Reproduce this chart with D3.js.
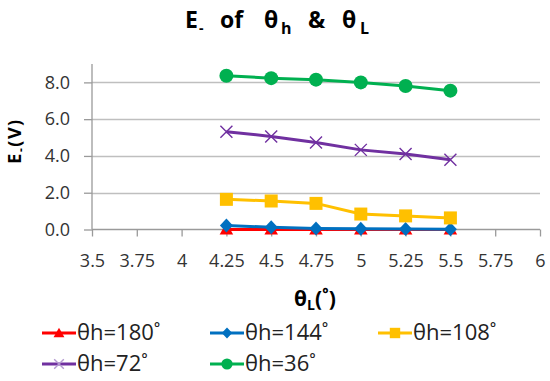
<!DOCTYPE html>
<html>
<head>
<meta charset="utf-8">
<script src="https://cdn.jsdelivr.net/npm/d3@7"></script>
<style>
  body { margin: 0; background: #fff; }
  svg { display: block; font-family: "Open Sans", sans-serif; }
</style>
</head>
<body>
<svg id="chart" width="550" height="381"></svg>
<script>
// θL values along x, one E- series per θh
const thetaL = [4.25, 4.5, 4.75, 5, 5.25, 5.5];
const xTicks = [3.5, 3.75, 4, 4.25, 4.5, 4.75, 5, 5.25, 5.5, 5.75, 6];
const yTicks = [0, 2, 4, 6, 8];

const e180 = [0, 0, 0, 0, 0, 0];
const e144 = [0.22, 0.12, 0.06, 0.04, 0.03, 0.02];
const e108 = [1.64, 1.55, 1.42, 0.84, 0.74, 0.63];
const e72  = [5.32, 5.06, 4.73, 4.33, 4.1, 3.79];
const e36  = [8.36, 8.23, 8.15, 8.0, 7.8, 7.55];

const seriesNames = ['θh=180˚', 'θh=144˚', 'θh=108˚', 'θh=72˚', 'θh=36˚'];
const seriesColors = ['#ff0000', '#0070c0', '#ffc000', '#7030a0', '#00b050'];
const seriesShapes = ['triangle', 'diamond', 'square', 'cross', 'circle'];

const series = [e180, e144, e108, e72, e36].map((vals, i) => ({
  name: seriesNames[i],
  colour: seriesColors[i],
  shape: seriesShapes[i],
  points: vals.map((v, j) => ({ x: thetaL[j], y: v })),
}));

const svg = d3.select('#chart');
const x = d3.scaleLinear().domain([3.5, 6]).range([92, 540]);
const y = d3.scaleLinear().domain([0, 9]).range([229.5, 64]);

// gridlines
svg.append('g')
  .selectAll('line')
  .data(yTicks.filter(t => t > 0))
  .join('line')
  .attr('x1', x(3.5)).attr('x2', x(6))
  .attr('y1', d => Math.round(y(d)) + 0.5).attr('y2', d => Math.round(y(d)) + 0.5)
  .attr('stroke', '#bfbfbf').attr('stroke-width', 1.3);

// axes
const yAxis = svg.append('g')
  .attr('transform', `translate(${x(3.5)},0)`)
  .call(d3.axisLeft(y).tickValues(yTicks).tickSize(8).tickPadding(14).tickFormat(d3.format('.1f')));
const xAxis = svg.append('g')
  .attr('transform', `translate(0,${y(0)})`)
  .call(d3.axisBottom(x).tickValues(xTicks).tickSize(7).tickPadding(18).tickFormat(d => String(d)));
for (const ax of [yAxis, xAxis]) {
  ax.select('.domain').attr('stroke', '#9a9a9a').attr('stroke-width', 1.3);
  ax.selectAll('.tick line').attr('stroke', '#9a9a9a').attr('stroke-width', 1.3);
  ax.selectAll('.tick text').attr('fill', '#333').attr('font-size', 18)
    .attr('font-family', '"Open Sans", sans-serif');
}
yAxis.select('.domain').attr('d', `M0,${y(9)}V${y(0)}`);
xAxis.select('.domain').attr('d', `M${x(3.5)},0H${x(6)}`);

// marker shapes centred at 0,0
function drawMarker(g, shape, colour, big) {
  const s = big ? 1 : 0.8;
  switch (shape) {
    case 'triangle':
      g.append('path').attr('d', d3.symbol(d3.symbolTriangle, 80 * s * s)()).attr('fill', colour)
        .attr('transform', 'translate(0,1)');
      break;
    case 'diamond':
      g.append('path').attr('d', `M0,${-7 * s}L${6.5 * s},0L0,${7 * s}L${-6.5 * s},0Z`).attr('fill', colour);
      break;
    case 'square':
      g.append('rect').attr('x', -6.5 * s).attr('y', -6.5 * s).attr('width', 13 * s).attr('height', 13 * s)
        .attr('fill', colour);
      break;
    case 'cross':
      g.append('path').attr('d', `M${-6 * s},${-6 * s}L${6 * s},${6 * s}M${6 * s},${-6 * s}L${-6 * s},${6 * s}`)
        .attr('stroke', big ? colour : '#b49ad0').attr('stroke-width', 1.4).attr('fill', 'none');
      break;
    default:
      g.append('circle').attr('r', 7 * s).attr('fill', colour);
  }
}

const line = d3.line().x(d => x(d.x)).y(d => y(d.y));
const plot = svg.append('g');
for (const s of series) {
  const g = plot.append('g');
  g.append('path').attr('d', line(s.points)).attr('fill', 'none')
    .attr('stroke', s.colour).attr('stroke-width', 3).attr('stroke-linejoin', 'round');
  g.selectAll('g.m').data(s.points).join('g').attr('class', 'm')
    .attr('transform', d => `translate(${x(d.x)},${y(d.y)})`)
    .each(function () { drawMarker(d3.select(this), s.shape, s.colour, true); });
}

// title, pieces placed to match the wide spacing of the original
const title = svg.append('g').attr('font-weight', 'bold').attr('fill', '#000');
const titleParts = [
  { t: 'E', x: 185, dy: 0, size: 23 },
  { t: '-', x: 199, dy: 5, size: 14 },
  { t: 'of', x: 220, dy: 0, size: 23 },
  { t: 'θ', x: 264, dy: 0, size: 23 },
  { t: 'h', x: 281, dy: 6, size: 16 },
  { t: '&', x: 308, dy: 0, size: 23 },
  { t: 'θ', x: 342, dy: 0, size: 23 },
  { t: 'L', x: 360, dy: 6, size: 16 },
];
title.selectAll('text').data(titleParts).join('text')
  .attr('x', d => d.x).attr('y', d => 28 + d.dy).attr('font-size', d => d.size).text(d => d.t);

// y axis title
const yt = svg.append('text').attr('transform', 'translate(21,141) rotate(-90)').attr('text-anchor', 'middle')
  .attr('font-size', 18).attr('font-weight', 'bold').attr('fill', '#000').attr('letter-spacing', 1.5);
yt.append('tspan').text('E');
yt.append('tspan').attr('font-size', 12).attr('dy', 4).text('-');
yt.append('tspan').attr('dy', -4).text('(V)');

// x axis title
const xt = svg.append('text').attr('x', 315).attr('y', 306).attr('text-anchor', 'middle')
  .attr('font-size', 21).attr('font-weight', 'bold').attr('fill', '#000');
xt.append('tspan').text('θ');
xt.append('tspan').attr('font-size', 14).attr('dy', 4).text('L');
xt.append('tspan').attr('dy', -4).text('(˚)');

// legend
const legendX = [42, 210, 378];
const legendY = [333, 364];
const leg = svg.append('g').selectAll('g').data(series).join('g')
  .attr('transform', (d, i) => `translate(${legendX[i % 3]},${legendY[Math.floor(i / 3)]})`);
leg.append('line').attr('x1', 0).attr('x2', 34).attr('stroke', d => d.colour).attr('stroke-width', 3);
leg.each(function (d) {
  const m = d3.select(this).append('g').attr('transform', 'translate(17,0)');
  drawMarker(m, d.shape, d.colour, false);
});
leg.append('text').attr('x', 35).attr('y', 7).attr('font-size', 22).attr('fill', '#222').text(d => d.name);
</script>
</body>
</html>
